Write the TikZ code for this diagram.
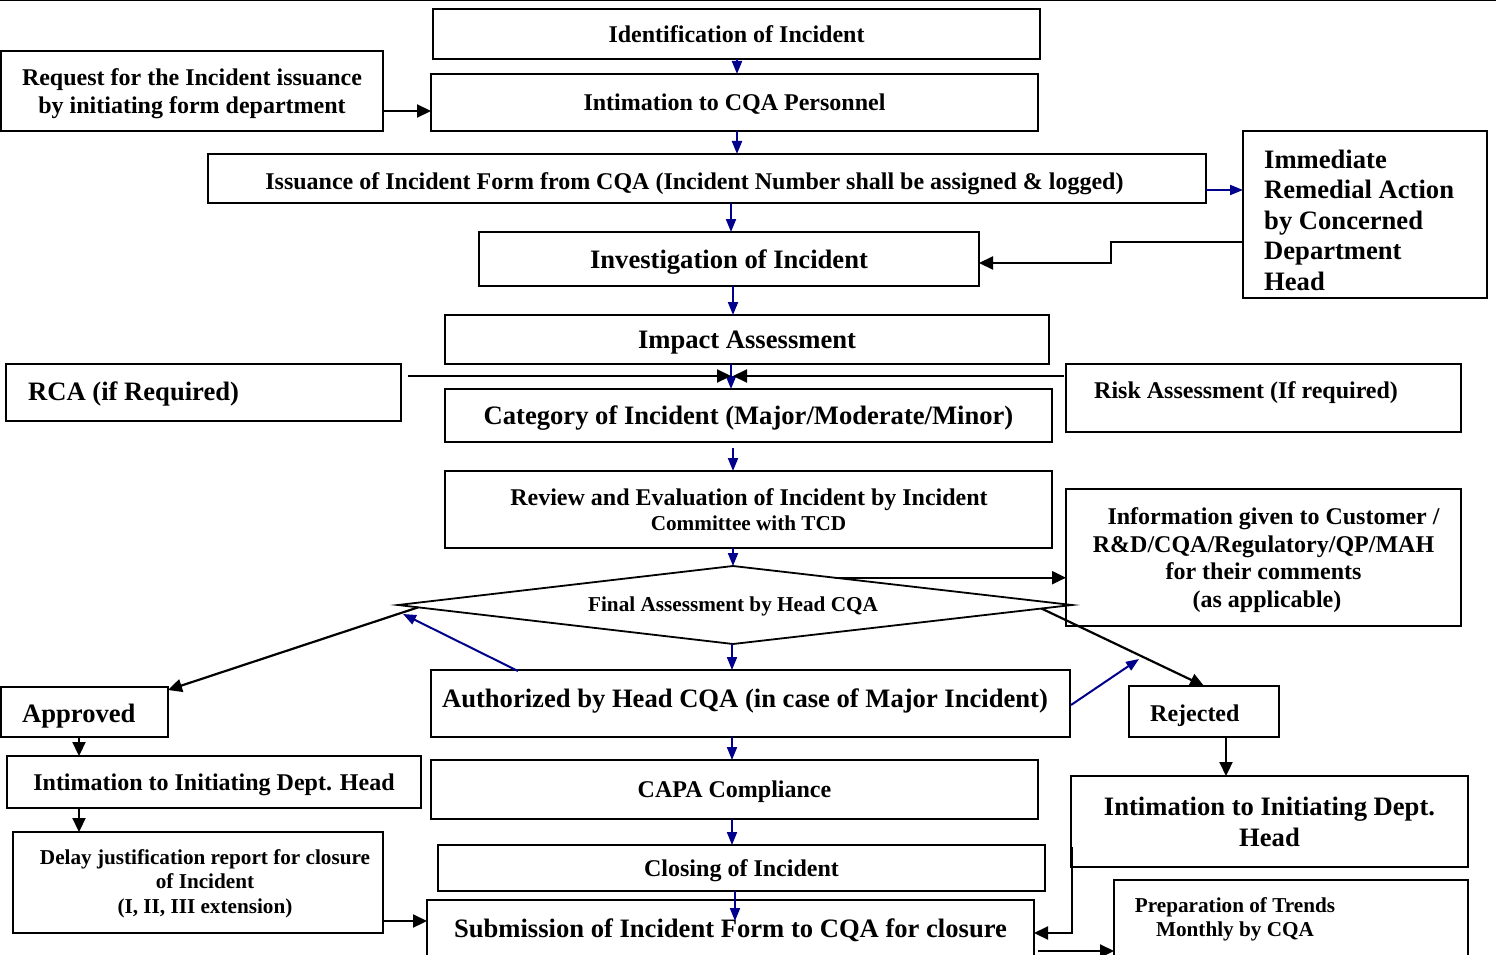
\documentclass[tikz,border=0pt]{standalone}
\usepackage{fontspec}
\setmainfont{Liberation Serif}
\usetikzlibrary{arrows.meta,calc}
\definecolor{navyb}{RGB}{0,0,140}
\newcommand\szS{\fontsize{21.2}{24.5}\selectfont}
\newcommand\szM{\fontsize{24}{28.5}\selectfont}
\newcommand\szL{\fontsize{26.6}{30.8}\selectfont}
\begin{document}
\begin{tikzpicture}[x=1pt,y=-1pt,
  box/.style={draw,line width=1.8pt,rectangle,inner sep=0pt,outer sep=0pt,align=center,text depth=0pt},
  lbl/.style={inner sep=0pt,align=left,text depth=0pt},
  fS/.style={font=\bfseries\szS},
  fM/.style={font=\bfseries\szM},
  fL/.style={font=\bfseries\szL},
  arrK/.style={line width=2.2pt,-{Triangle[length=14pt,width=13pt]}},
  arrB/.style={navyb,line width=2pt,-{Triangle[length=13pt,width=10pt]}},
]
\useasboundingbox (0,0) rectangle (1496,955);
\draw[line width=1.5pt] (0,0.75) -- (1496,0.75);

% boxes
\node[box,fM,minimum width=607,minimum height=50] (ident) at (736.5,34) {Identification of Incident};
\node[box,fM,minimum width=607,minimum height=57] (intC) at (734.5,102.5) {Intimation to CQA Personnel};
\node[box,fM,minimum width=382,minimum height=80] (req) at (192,91) {Request for the Incident issuance\\by initiating form department};
\node[box,minimum width=998,minimum height=49] (iss) at (707,178.5) {};
\node[lbl,fM] (issl) at (694.5,181) {Issuance of Incident Form from CQA (Incident Number shall be assigned \& logged)};
\node[box,minimum width=244,minimum height=167] (imm) at (1365,214.5) {};
\node[lbl,anchor=west,font=\bfseries\fontsize{26.6}{30.5}\selectfont] (imml) at (1264,220) {Immediate\\Remedial Action\\by Concerned\\Department\\Head};
\node[box,fL,minimum width=500,minimum height=54] (inv) at (729,259) {Investigation of Incident};
\node[box,fL,minimum width=604,minimum height=49] (imp) at (747,339.5) {Impact Assessment};
\node[box,minimum width=395,minimum height=57] (rca) at (203.5,392.5) {};
\node[lbl,fL,anchor=west] (rcal) at (28,391) {RCA (if Required)};
\node[box,minimum width=395,minimum height=68] (risk) at (1263.5,398) {};
\node[lbl,fM,anchor=west] (riskl) at (1094,390) {Risk Assessment (If required)};
\node[box,fL,minimum width=607,minimum height=53] (cat) at (748.5,415.5) {Category of Incident (Major/Moderate/Minor)};
\node[box,minimum width=607,minimum height=77] (rev) at (748.5,509.5) {};
\node[lbl,fM] (revl1) at (749,497) {Review and Evaluation of Incident by Incident};
\node[lbl,fS] (revl2) at (748.5,523) {Committee with TCD};
\node[box,minimum width=395,minimum height=137,font=\bfseries\fontsize{24}{27.7}\selectfont] (info) at (1263.5,557.5) {\hspace*{20pt}Information given to Customer /\\R\&D/CQA/Regulatory/QP/MAH\hspace*{16pt}\\for their comments\hspace*{28pt}\\\hspace*{7pt}(as applicable)};
\coordinate (diaN) at (733,566);
\coordinate (diaS) at (733,644);
\coordinate (diaW) at (398,605);
\coordinate (diaE) at (1072,605);
\draw[line width=1.8pt,line join=miter] (diaN) -- (diaE) -- (diaS) -- (diaW) -- cycle;
\node[lbl,fS] (dia) at (733,604) {Final Assessment by Head CQA};
\node[box,minimum width=167,minimum height=50] (appr) at (84.5,712) {};
\node[lbl,fL,anchor=west] (apprl) at (22,713) {Approved};
\node[box,minimum width=639,minimum height=67] (auth) at (750.5,703.5) {};
\node[lbl,fL] (authl) at (745,698) {Authorized by Head CQA (in case of Major Incident)};
\node[box,minimum width=150,minimum height=51] (rej) at (1204,711.5) {};
\node[lbl,fM,anchor=west] (rejl) at (1150,713) {Rejected};
\node[box,fM,minimum width=414,minimum height=52] (intL) at (214,782) {Intimation to Initiating Dept. Head};
\node[box,fM,minimum width=607,minimum height=59] (capa) at (734.5,789.5) {CAPA Compliance};
\node[box,fL,minimum width=397,minimum height=91] (intR) at (1269.5,821.5) {Intimation to Initiating Dept.\\Head};
\node[box,minimum width=370,minimum height=101] (delay) at (198,882.5) {};
\node[lbl,fS,align=center] (delayl) at (205,881.5) {Delay justification report for closure\\of Incident\\(I, II, III extension)};
\node[box,fM,minimum width=607,minimum height=46] (clos) at (741.5,868) {Closing of Incident};
\node[box,fL,minimum width=607,minimum height=56] (sub) at (730.5,928) {Submission of Incident Form to CQA for closure};
\node[box,minimum width=354,minimum height=76] (prep) at (1291,918) {};
\node[lbl,align=center,font=\bfseries\fontsize{21.2}{24}\selectfont] (prepl) at (1235,917) {Preparation of Trends\\Monthly by CQA};

% helper coordinates
\coordinate (cross) at (732,376);
\coordinate (bluefree) at (1139,659);
\coordinate (d1) at ($(diaN)!0.3!(diaE)$);
\coordinate (ap) at ($(appr.south west)+(78,0)$);
\coordinate (il) at ($(intL.south west)+(72,0)$);
\coordinate (rj) at ($(rej.south)+(22,0)$);
\coordinate (dl) at ($(delay.south east)+(0,-12)$);
\coordinate (rq) at ($(req.east)+(0,20)$);
\coordinate (sb) at ($(sub.south east)+(4,-5)$);

% blue main-flow arrows
\draw[arrB] ($(ident.south)+(0.5,0)$) -- ($(intC.north)+(2.5,0)$);
\draw[arrB] ($(intC.south)+(2.5,0)$) -- ($(iss.north)+(30,0)$);
\draw[arrB] ($(iss.south)+(24,0)$) -- ($(inv.north)+(2,0)$);
\draw[arrB] ($(inv.south)+(4,0)$) -- ($(imp.north)+(-14,0)$);
\draw[arrB] ($(imp.south)+(-16,0)$) -- ($(cat.north)+(-17.5,0)$);
\draw[arrB] ($(cat.south)+(-15.5,6)$) -- ($(rev.north)+(-15.5,0)$);
\draw[arrB] ($(rev.south)+(-15.5,0)$) -- (diaN);
\draw[arrB] ($(diaS)+(-1,0)$) -- ($(auth.north)+(-18.5,0)$);
\draw[arrB] ($(auth.south)+(-18.5,0)$) -- ($(capa.north)+(-2.5,0)$);
\draw[arrB] ($(capa.south)+(-2.5,0)$) -- ($(clos.north)+(-9.5,0)$);
\draw[arrB] ($(clos.south)+(-6.5,0)$) -- ($(sub.north)+(4.5,21)$);
\draw[arrB] ($(iss.east)+(0,11.5)$) -- ($(imm.west)+(0,-24.5)$);
\draw[arrB] ($(auth.north west)+(87,1)$) -- ($(diaW)+(5,9)$);
\draw[arrB] ($(auth.east)+(1,1.5)$) -- (bluefree);

% black arrows
\draw[arrK] (rq) -- (rq -| intC.west);
\draw[arrK] ($(imm.west)+(0,27.5)$) -- ++(-132,0) -- ++(0,21) -- ($(inv.east)+(0,4)$);
\draw[arrK] ($(rca.north east)+(7,12)$) -- ($(cross)+(-1,0)$);
\draw[arrK] ($(risk.north west)+(-2,12)$) -- ($(cross)+(1,0)$);
\draw[arrK] (d1) -- (d1 -| info.west);
\draw[arrK] ($(diaW)!0.06!(diaS)$) -- ($(appr.north east)+(0,3)$);
\draw[arrK] ($(diaE)!0.09!(diaS)$) -- (rej.north);
\draw[arrK] (ap) -- (ap |- intL.north);
\draw[arrK] (il) -- (il |- delay.north);
\draw[arrK] (rj) -- (rj |- intR.north);
\draw[arrK] (dl) -- (dl -| sub.west);
\draw[arrK] ($(intR.south west)+(1,-20)$) |- ($(sub.east)+(0,5)$);
\draw[arrK] (sb) -- (sb -| prep.west);
\end{tikzpicture}
\end{document}
